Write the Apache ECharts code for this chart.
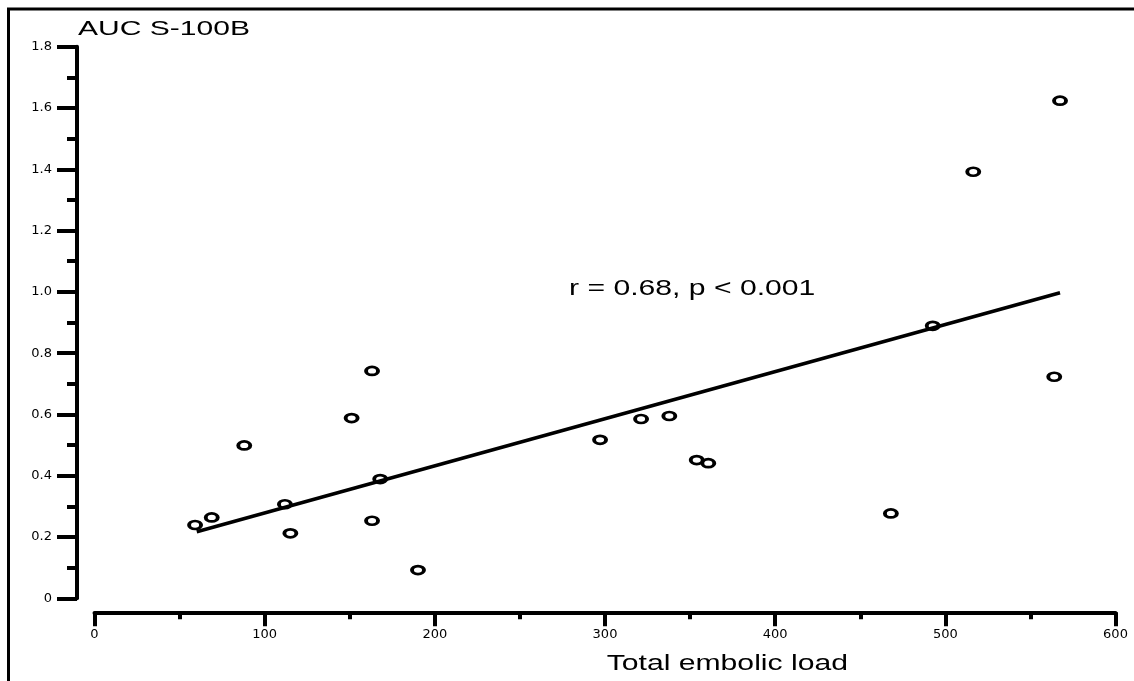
<!DOCTYPE html>
<html><head><meta charset="utf-8">
<script src="https://cdn.jsdelivr.net/npm/echarts@6/dist/echarts.min.js"></script>
<style>html,body{margin:0;padding:0;background:#fff}#c{width:1134px;height:681px}</style>
</head><body><div id="c"></div>
<script>
// Data
const embolicLoad = [59.1, 68.9, 88.0, 111.9, 115.1, 151.1, 163.1, 163.1, 167.9, 190.1, 297.1, 321.2, 337.8, 353.9, 360.7, 468.0, 492.6, 516.4, 564.0, 567.4];
const aucS100B   = [0.239, 0.264, 0.499, 0.307, 0.212, 0.588, 0.742, 0.253, 0.389, 0.092, 0.517, 0.585, 0.595, 0.451, 0.441, 0.277, 0.889, 1.392, 0.723, 1.624];
const fitX = [60.1, 567.4];
const fitY = [0.217, 0.997];
const xTickLabels = ['0', '100', '200', '300', '400', '500', '600'];
const yTickLabels = ['0', '0.2', '0.4', '0.6', '0.8', '1.0', '1.2', '1.4', '1.6', '1.8'];
const yTitle = 'AUC S-100B';
const xTitle = 'Total embolic load';
const annotation = 'r = 0.68, p < 0.001';

const ellipsePath = 'path://M0,1 C0,0.4477 0.4477,0 1,0 C1.5523,0 2,0.4477 2,1 C2,1.5523 1.5523,2 1,2 C0.4477,2 0,1.5523 0,1 Z';

const chart = echarts.init(document.getElementById('c'), null, {renderer: 'canvas'});
const axisCommon = {
  axisLine: {show: true, onZero: false, lineStyle: {color: '#000', width: 4}},
  splitLine: {show: false},
};
chart.setOption({
  animation: false,
  backgroundColor: '#fff',
  grid: {left: 94.5, right: 18.5, top: 46.7, bottom: 82.7, outerBoundsMode: 'none', containLabel: false},
  xAxis: Object.assign({
    type: 'value', min: 0, max: 600, interval: 100, offset: 14,
    axisTick: {show: true, length: 14, lineStyle: {color: '#000', width: 4}},
    minorTick: {show: true, splitNumber: 2, length: 7, lineStyle: {color: '#000', width: 4}},
    axisLabel: {margin: 22, verticalAlign: 'middle', color: '#000', fontSize: 13, fontFamily: 'DejaVu Sans',
      formatter: v => xTickLabels[Math.round(v / 100)]},
  }, axisCommon),
  yAxis: Object.assign({
    type: 'value', min: 0, max: 1.8, interval: 0.2, offset: 17.5,
    axisTick: {show: true, length: 20, lineStyle: {color: '#000', width: 4}},
    minorTick: {show: true, splitNumber: 2, length: 10, lineStyle: {color: '#000', width: 4}},
    axisLabel: {margin: 25, color: '#000', fontSize: 13, fontFamily: 'DejaVu Sans',
      formatter: v => yTickLabels[Math.round(v / 0.2)]},
  }, axisCommon),
  series: [
    {
      type: 'line', data: fitX.map((x, i) => [x, fitY[i]]), symbol: 'none',
      lineStyle: {color: '#000', width: 3.5}, z: 2, silent: true
    },
    {
      type: 'scatter', data: embolicLoad.map((x, i) => [x, aucS100B[i]]),
      symbol: ellipsePath, symbolSize: [12, 8],
      itemStyle: {color: 'rgba(255,255,255,0)', borderColor: '#000', borderWidth: 3.2, opacity: 1}, z: 3
    }
  ],
  graphic: [
    {type: 'polyline', shape: {points: [[8.5, 681], [8.5, 9], [1134, 9]]}, style: {stroke: '#000', lineWidth: 3, fill: null}, silent: true},
    {type: 'text', x: 78, y: 29.5, scaleX: 1.43, style: {text: yTitle, font: '21px "Liberation Sans"', fill: '#000', align: 'left', verticalAlign: 'middle'}},
    {type: 'text', x: 606.7, y: 663.5, scaleX: 1.37, style: {text: xTitle, font: '22px "Liberation Sans"', fill: '#000', align: 'left', verticalAlign: 'middle'}},
    {type: 'text', x: 569, y: 288.5, scaleX: 1.37, style: {text: annotation, font: '22px "Liberation Sans"', fill: '#000', align: 'left', verticalAlign: 'middle'}}
  ]
});
</script></body></html>
